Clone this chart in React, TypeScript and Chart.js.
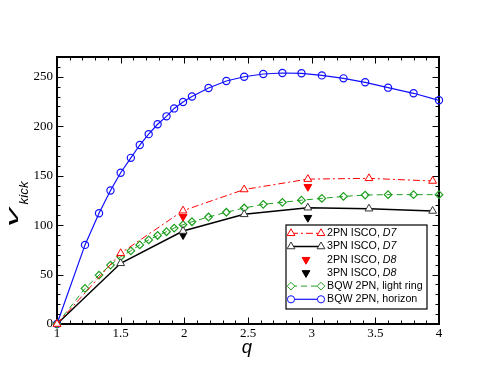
import React, { useEffect, useRef } from "react";
import { Chart, registerables } from "chart.js";

Chart.register(...registerables);

// ---------- data ----------
const xTicks = [1, 1.5, 2, 2.5, 3, 3.5, 4];
const yTicks = [0, 50, 100, 150, 200, 250];

const qBqw = [1, 1.22, 1.33, 1.42, 1.5, 1.58, 1.65, 1.72, 1.79, 1.86, 1.92, 1.99, 2.06, 2.19, 2.33, 2.47, 2.62, 2.77, 2.92, 3.08, 3.25, 3.42, 3.6, 3.8, 4.0];
const bqwHorizon = [0, 80, 112, 135, 153, 168, 181, 192, 202, 210, 218, 224.5, 230, 238.6, 245.7, 250, 252.8, 253.8, 253.5, 251.4, 248.4, 244.4, 239, 233.3, 226.2];
const bqwLightRing = [0, 36, 49.5, 59.6, 68, 74, 80, 85, 89.5, 93.3, 97, 100.4, 103.4, 108.2, 113, 117.3, 121, 123, 125.2, 127, 129, 130.4, 130.8, 130.8, 130.8];

const qIsco = [1, 1.5, 1.99, 2.47, 2.97, 3.45, 3.95];
const isco2pnD7 = [0, 71.5, 114.6, 136, 146.5, 147.3, 144.6];
const isco3pnD7 = [0, 61.4, 94, 110.9, 117.6, 116.6, 114.3];

const qD8 = [1.99, 2.97];
const isco2pnD8 = [108.5, 138.8];
const isco3pnD8 = [90, 107.5];

const legendNames = ["2PN ISCO, ", "3PN ISCO, ", "2PN ISCO, ", "3PN ISCO, ", "BQW 2PN, light ring", "BQW 2PN, horizon"];
const legendItalic = ["D7", "D7", "D8", "D8", "", ""];

const RED = "#ff0000";
const BLACK = "#000000";
const GREEN = "#1f9f1f";
const BLUE = "#1010ff";

const toPts = (xs: number[], ys: number[]) => xs.map((x, i) => ({ x, y: ys[i] }));

const SANS = "'Liberation Sans', Arial, Helvetica, sans-serif";
const SERIF = '"Liberation Serif", "Times New Roman", serif';

function drawMarker(ctx: CanvasRenderingContext2D, style: string, x: number, y: number, r: number, color: string, filled: boolean, rot = 0) {
  ctx.save();
  ctx.beginPath();
  if (style === "circle") {
    ctx.arc(x, y, r, 0, Math.PI * 2);
  } else if (style === "triangle") {
    const base = (rot * Math.PI) / 180;
    for (let k = 0; k < 3; k++) {
      const a = base + (k * 2 * Math.PI) / 3;
      const px = x + Math.sin(a) * r;
      const py = y - Math.cos(a) * r;
      if (k === 0) ctx.moveTo(px, py);
      else ctx.lineTo(px, py);
    }
    ctx.closePath();
  } else if (style === "rectRot") {
    ctx.moveTo(x, y - r);
    ctx.lineTo(x + r, y);
    ctx.lineTo(x, y + r);
    ctx.lineTo(x - r, y);
    ctx.closePath();
  }
  ctx.lineWidth = 1;
  ctx.strokeStyle = color;
  ctx.fillStyle = filled ? color : "#ffffff";
  ctx.fill();
  ctx.stroke();
  ctx.restore();
}

const framePlugin = {
  id: "frameTicks",
  beforeDatasetsDraw(chart: any) {
    const { ctx, chartArea: a, scales } = chart;
    const xs = scales.x;
    const ys = scales.y;
    ctx.save();
    ctx.strokeStyle = "#000";
    ctx.lineWidth = 1;
    ctx.beginPath();
    for (let i = 10; i <= 40; i++) {
      const v = i / 10;
      const px = Math.round(xs.getPixelForValue(v)) + 0.5;
      const len = i % 5 === 0 ? 6.5 : 3.5;
      ctx.moveTo(px, a.bottom);
      ctx.lineTo(px, a.bottom - len);
      ctx.moveTo(px, a.top);
      ctx.lineTo(px, a.top + len);
    }
    for (let v = 0; v <= 270; v += 10) {
      const py = Math.round(ys.getPixelForValue(v)) + 0.5;
      const len = v % 50 === 0 ? 6.5 : 3.5;
      ctx.moveTo(a.left, py);
      ctx.lineTo(a.left + len, py);
      ctx.moveTo(a.right, py);
      ctx.lineTo(a.right - len, py);
    }
    ctx.stroke();
    ctx.lineWidth = 2;
    ctx.strokeRect(a.left, a.top, a.right - a.left, a.bottom - a.top);
    ctx.restore();
  },
  afterDraw(chart: any) {
    const { ctx, chartArea: a } = chart;
    ctx.save();
    // x title
    ctx.fillStyle = "#000";
    ctx.font = `italic 18.5px ${SANS}`;
    ctx.textAlign = "center";
    ctx.textBaseline = "alphabetic";
    ctx.fillText("q", (a.left + a.right) / 2 - 1, 352.5);

    // y title (rotated)
    ctx.save();
    ctx.translate(18.3, 227);
    ctx.rotate(-Math.PI / 2);
    ctx.textAlign = "left";
    ctx.font = `italic 17px ${SANS}`;
    const vw = ctx.measureText("v").width;
    ctx.save();
    ctx.scale(19 / vw, 1);
    ctx.fillText("v", 0, 0);
    ctx.restore();
    ctx.font = `italic 13.5px ${SANS}`;
    ctx.fillText("kick", 22.5, 9.7);
    ctx.restore();

    // legend
    const bx = 286, by = 225, bw = 141, bh = 84;
    ctx.fillStyle = "#fff";
    ctx.fillRect(bx, by, bw, bh);
    ctx.strokeStyle = "#000";
    ctx.lineWidth = 1.2;
    ctx.strokeRect(bx, by, bw, bh);
    const ds = chart.data.datasets;
    const x0 = 291, x1 = 321, tx = 327;
    for (let i = 0; i < legendNames.length; i++) {
      const y = 233.3 + i * 13.2;
      const d: any = ds[i];
      if (d.showLine !== false) {
        ctx.save();
        ctx.beginPath();
        ctx.strokeStyle = d.borderColor;
        ctx.lineWidth = d.borderWidth;
        ctx.setLineDash(d.borderDash || []);
        ctx.moveTo(x0, y);
        ctx.lineTo(x1, y);
        ctx.stroke();
        ctx.restore();
        drawMarker(ctx, d.pointStyle, x0, y, d.pointRadius, d.pointBorderColor, false, 0);
        drawMarker(ctx, d.pointStyle, x1, y, d.pointRadius, d.pointBorderColor, false, 0);
      } else {
        drawMarker(ctx, d.pointStyle, (x0 + x1) / 2, y, d.pointRadius, d.pointBorderColor, true, d.pointRotation || 0);
      }
      ctx.fillStyle = "#000";
      ctx.textAlign = "left";
      ctx.textBaseline = "middle";
      ctx.font = `10.7px ${SANS}`;
      ctx.fillText(legendNames[i], tx, y);
      if (legendItalic[i]) {
        const w = ctx.measureText(legendNames[i]).width;
        ctx.font = `italic 10.7px ${SANS}`;
        ctx.fillText(legendItalic[i], tx + w, y);
      }
    }
    ctx.restore();
  },
};

export default function App() {
  const ref = useRef<HTMLCanvasElement | null>(null);

  useEffect(() => {
    if (!ref.current) return;
    const hollow = "rgba(255,255,255,1)";
    const chart = new Chart(ref.current, {
      type: "scatter",
      data: {
        datasets: [
          {
            label: "2PN ISCO, D7",
            data: toPts(qIsco, isco2pnD7),
            showLine: true,
            borderColor: RED,
            borderWidth: 1,
            borderDash: [7, 3, 2, 3],
            pointStyle: "triangle",
            pointRadius: 4.5,
            pointBorderColor: RED,
            pointBackgroundColor: hollow,
            pointBorderWidth: 1,
            clip: false,
          } as any,
          {
            label: "3PN ISCO, D7",
            data: toPts(qIsco, isco3pnD7),
            showLine: true,
            borderColor: BLACK,
            borderWidth: 1.5,
            pointStyle: "triangle",
            pointRadius: 4.5,
            pointBorderColor: "#333",
            pointBackgroundColor: hollow,
            pointBorderWidth: 1,
            clip: false,
          },
          {
            label: "2PN ISCO, D8",
            data: toPts(qD8, isco2pnD8),
            showLine: false,
            pointStyle: "triangle",
            pointRotation: 180,
            pointRadius: 4.5,
            pointBorderColor: RED,
            pointBackgroundColor: RED,
            clip: false,
          },
          {
            label: "3PN ISCO, D8",
            data: toPts(qD8, isco3pnD8),
            showLine: false,
            pointStyle: "triangle",
            pointRotation: 180,
            pointRadius: 4.5,
            pointBorderColor: BLACK,
            pointBackgroundColor: BLACK,
            clip: false,
          },
          {
            label: "BQW 2PN, light ring",
            data: toPts(qBqw, bqwLightRing),
            showLine: true,
            borderColor: GREEN,
            borderWidth: 1,
            borderDash: [6, 4],
            pointStyle: "rectRot",
            pointRadius: 3.8,
            pointBorderColor: GREEN,
            pointBackgroundColor: "rgba(0,0,0,0)",
            pointBorderWidth: 1.2,
            clip: false,
          },
          {
            label: "BQW 2PN, horizon",
            data: toPts(qBqw, bqwHorizon),
            showLine: true,
            borderColor: BLUE,
            borderWidth: 1.2,
            pointStyle: "circle",
            pointRadius: 3.6,
            pointBorderColor: BLUE,
            pointBackgroundColor: "rgba(0,0,0,0)",
            pointBorderWidth: 1.2,
            clip: false,
          },
        ],
      },
      options: {
        animation: false,
        responsive: true,
        maintainAspectRatio: false,
        events: [],
        layout: { padding: { left: 0, right: 55, top: 57, bottom: 0 } },
        plugins: { legend: { display: false }, tooltip: { enabled: false } },
        scales: {
          x: {
            type: "linear",
            min: 1,
            max: 4,
            afterBuildTicks: (s: any) => {
              s.ticks = xTicks.map((v) => ({ value: v }));
            },
            afterFit: (s: any) => {
              s.height = 58;
            },
            grid: { display: false, drawTicks: false },
            border: { display: false },
            ticks: {
              color: "#000",
              font: { family: SERIF, size: 13 },
              padding: 2,
              maxRotation: 0,
              autoSkip: false,
              callback: (v: any) => String(v),
            },
          },
          y: {
            type: "linear",
            min: 0,
            max: 270,
            afterBuildTicks: (s: any) => {
              s.ticks = yTicks.map((v) => ({ value: v }));
            },
            afterFit: (s: any) => {
              s.width = 57;
            },
            grid: { display: false, drawTicks: false },
            border: { display: false },
            ticks: {
              color: "#000",
              font: { family: SERIF, size: 13 },
              padding: 4,
              autoSkip: false,
              callback: (v: any) => String(v),
            },
          },
        },
      },
      plugins: [framePlugin],
    });
    return () => chart.destroy();
  }, []);

  return (
    <div style={{ position: "fixed", left: 0, top: 0, width: 494, height: 382, background: "#fff" }}>
      <canvas ref={ref} />
    </div>
  );
}
